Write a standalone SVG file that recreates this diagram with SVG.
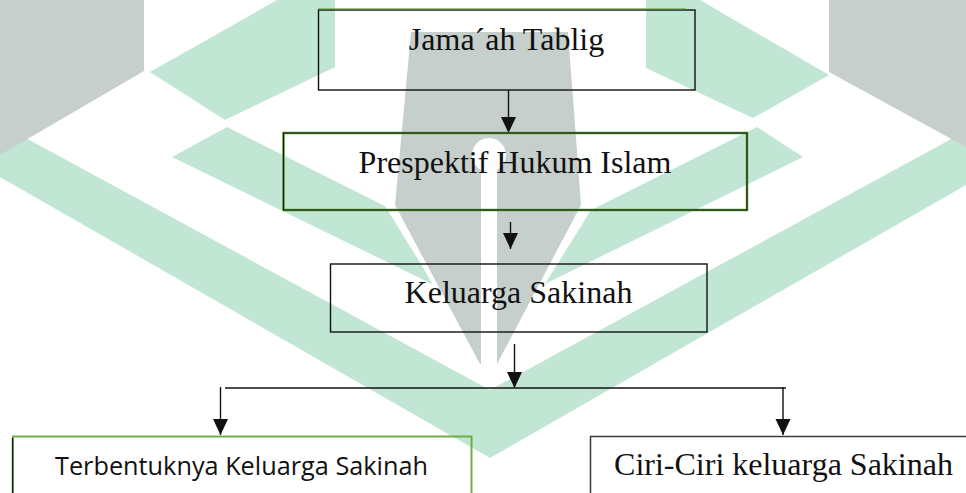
<svg xmlns="http://www.w3.org/2000/svg" width="966" height="493" viewBox="0 0 966 493">
<style>
.wg{fill:#c1e6d3}
.wy{fill:#c6cfcc}
.box{fill:none;stroke:#111;stroke-width:1.4}
.ser{font-family:"Liberation Serif","Times New Roman",serif;font-size:32px;fill:#111;text-anchor:middle}
.san{font-family:"Open Sans","Liberation Sans",sans-serif;font-size:26px;fill:#111;text-anchor:middle}
.ln{stroke:#111;stroke-width:1.4;fill:none}
</style>
<defs>
<marker id="ah" markerUnits="userSpaceOnUse" markerWidth="16" markerHeight="16" viewBox="0 0 16 16" refX="16" refY="8" orient="auto">
<path d="M0,0.5 L16,8 L0,15.5 Z" fill="#111"/>
</marker>
</defs>
<rect width="966" height="493" fill="#fff"/>
<g id="watermark">
<polygon class="wg" points="0,124 490,390 966,131 966,185 490,458 0,177"/>
<polygon class="wg" points="150,72 277,0 335,0 335,67 225,120"/>
<polygon class="wg" points="646,0 700,0 829,75 753,118 646,68"/>
<polygon class="wg" points="227,127 172,157 434,285 385,206"/>
<polygon class="wg" points="757,127 803,157 545,284 591,210"/>
<polygon class="wy" points="0,0 144,0 144,71 0,155"/>
<polygon class="wy" points="829,0 966,0 966,147 829,72"/>
<polygon class="wy" points="411,32 568,32 581,205 497,364 480,364 395,205" stroke="#fff" stroke-width="9" stroke-linejoin="miter" paint-order="stroke"/>
<rect x="481" y="150" width="16" height="218" fill="#fff"/>
<circle cx="489" cy="155" r="17" fill="#fff"/>
</g>
<g id="connectors">
<line class="ln" x1="508.5" y1="90" x2="508.5" y2="133" marker-end="url(#ah)"/>
<line class="ln" x1="510.5" y1="222" x2="510.5" y2="249" marker-end="url(#ah)"/>
<line class="ln" x1="514.5" y1="344" x2="514.5" y2="388" marker-end="url(#ah)"/>
<line class="ln" x1="225" y1="388" x2="786" y2="388"/>
<line class="ln" x1="220.5" y1="387" x2="220.5" y2="435" marker-end="url(#ah)"/>
<line class="ln" x1="783" y1="387" x2="783" y2="435" marker-end="url(#ah)"/>
</g>
<g id="node-jamaah">
<rect class="box" x="318.5" y="10" width="376.5" height="80"/>
<line x1="318" y1="8.8" x2="686" y2="8.8" stroke="#70ad47" stroke-width="1"/>
<text class="ser" x="506.5" y="50">Jama´ah Tablig</text>
</g>
<g id="node-prespektif">
<rect x="283.5" y="133" width="463.5" height="77" fill="none" stroke="#72b04c" stroke-width="2.6"/>
<rect x="283.5" y="133" width="463.5" height="77" fill="none" stroke="#0d1a0d" stroke-width="1.2"/>
<text class="ser" x="515" y="173">Prespektif Hukum Islam</text>
</g>
<g id="node-keluarga">
<rect class="box" x="330.5" y="264" width="376.5" height="68"/>
<text class="ser" x="518.5" y="303">Keluarga Sakinah</text>
</g>
<g id="node-terbentuknya">
<rect x="13" y="436.5" width="458.5" height="70" fill="none" stroke="#70ad47" stroke-width="2"/>
<line x1="12.5" y1="438" x2="12.5" y2="493" stroke="#1a1a1a" stroke-width="1.3"/>
<text class="san" x="241.5" y="475" textLength="373" lengthAdjust="spacingAndGlyphs">Terbentuknya Keluarga Sakinah</text>
</g>
<g id="node-ciri">
<rect x="590.5" y="436.5" width="390" height="70" fill="none" stroke="#3a3a3a" stroke-width="1.5"/>
<text class="ser" x="783.5" y="475">Ciri-Ciri keluarga Sakinah</text>
</g>
</svg>
